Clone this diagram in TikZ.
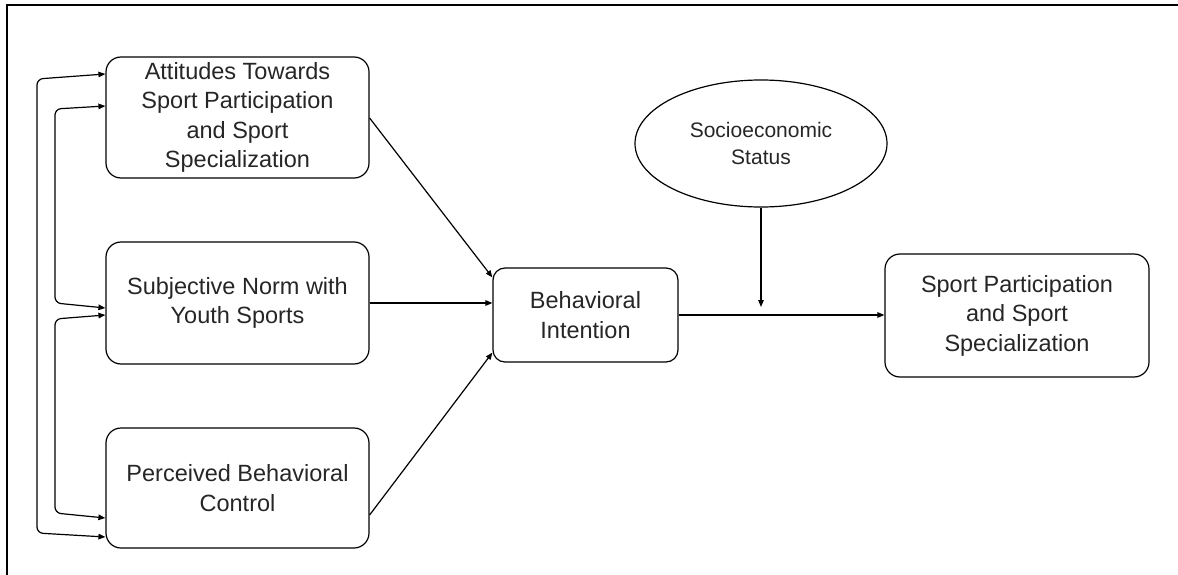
\documentclass[tikz,border=0pt]{standalone}
\usepackage{fontspec}
\setmainfont{Liberation Sans}
\usetikzlibrary{arrows.meta,calc,shapes.geometric}
\tikzset{
  box/.style={draw, rounded corners=15pt, line width=1.2pt, inner sep=0pt, align=center,
    font=\fontsize{23.5}{29.5}\selectfont, text=black!85},
  oval/.style={draw, ellipse, line width=1.2pt, inner sep=0pt, align=center,
    font=\fontsize{21}{26.7}\selectfont, text=black!85},
  conn/.style={line width=1.2pt, -{Triangle[length=7pt,width=5.5pt]}},
  dbl/.style={line width=1.2pt, {Triangle[length=7pt,width=5.5pt]}-{Triangle[length=7pt,width=5.5pt]}, rounded corners=6pt},
}
\begin{document}
\begin{tikzpicture}[x=1pt,y=-1pt]
\useasboundingbox (0,0) rectangle (1178,575);
\draw[line width=1.4pt] (7,575) -- (7,5) -- (1178,5);

\node[box, minimum width=263pt, minimum height=121pt] (A) at (237.5,117.5)
  {Attitudes Towards\\Sport Participation\\and Sport\\Specialization};
\node[box, minimum width=263pt, minimum height=122pt] (S) at (237.5,303)
  {Subjective Norm with\\Youth Sports};
\node[box, minimum width=263pt, minimum height=120pt] (P) at (237.5,488)
  {Perceived Behavioral\\Control};
\node[box, rounded corners=12pt, minimum width=185pt, minimum height=94pt] (B) at (585.5,315)
  {Behavioral\\Intention};
\node[box, minimum width=264pt, minimum height=123pt] (R) at (1017,315.5)
  {Sport Participation\\and Sport\\Specialization};
\node[oval, minimum width=252pt, minimum height=127pt] (E) at (761,143.5)
  {Socioeconomic\\Status};

\coordinate (m) at (761,307);
\coordinate (o1) at (37,79);
\coordinate (o2) at (37,533);
\coordinate (i1) at (55,109);
\coordinate (i2) at (55,303);
\coordinate (i3) at (55,319);
\coordinate (i4) at (55,513);

\draw[conn] ($(A.east)+(0,0.5)$) -- ($(B.north west)+(0,10)$);
\draw[conn] (S.east) -- (B.west |- S.east);
\draw[conn] ($(P.east)+(0,27)$) -- ($(B.south west)+(0,-10)$);
\draw[conn] (B.east) -- (R.west |- B.east);
\draw[conn] (E.south) -- (m);

\draw[dbl] ($(A.west)+(0,-43.5)$) -- (o1) -- (o2) -- ($(P.west)+(0,49)$);
\draw[dbl] ($(A.west)+(0,-11.5)$) -- (i1) -- (i2) -- ($(S.west)+(0,5)$);
\draw[dbl] ($(S.west)+(0,12)$) -- (i3) -- (i4) -- ($(P.west)+(0,30)$);
\end{tikzpicture}
\end{document}
